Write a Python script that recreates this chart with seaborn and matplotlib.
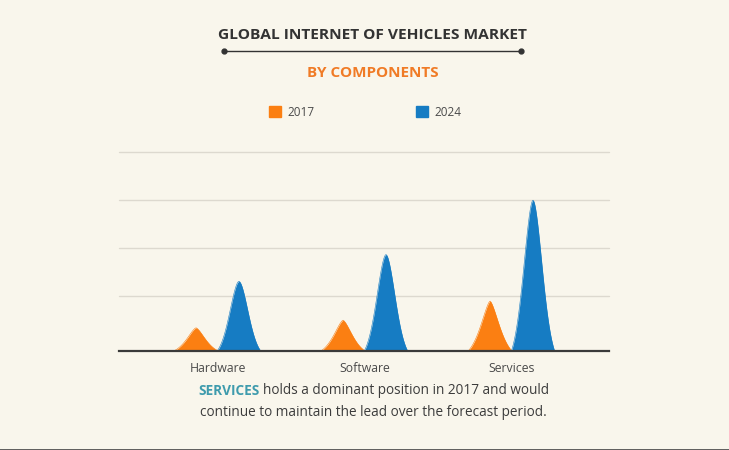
import matplotlib
matplotlib.use('Agg')
import matplotlib.pyplot as plt
from matplotlib.lines import Line2D
from matplotlib.patches import Patch
import numpy as np
import pandas as pd
import seaborn as sns

categories = ['Hardware', 'Software', 'Services']
years = ['2017', '2024']
values_2017 = [9.5, 12.7, 20.7]
values_2024 = [29, 40.2, 63]
grid_values = [23, 43, 63, 83]

ORANGE = '#FB7F12'
BLUE = '#167CC3'
BG = '#F9F6EC'
W, H = 729, 450


def peak_outline(center, value, offset, scale, power):
    # spike with a pointed top, value is the peak height
    half = 0.146
    t = np.linspace(-half, half, 81)
    edge = np.exp(-(half / scale) ** power)
    y = value * (np.exp(-(np.abs(t) / scale) ** power) - edge) / (1 - edge)
    return center + offset + t, y


def get_data():
    rows = []
    shapes = [(0.095, 1.5), (0.09, 1.8)]
    for i, cat in enumerate(categories):
        for year, vals, offset, shape in zip(years, [values_2017, values_2024], [-0.146, 0.146], shapes):
            x, y = peak_outline(i, vals[i], offset, shape[0], shape[1])
            rows.append(pd.DataFrame({'x': x, 'y': y, 'year': year, 'cat': cat}))
    return pd.concat(rows, ignore_index=True)


def main():
    sns.set_theme(style='white')
    plt.rcParams['font.family'] = ['Open Sans', 'DejaVu Sans']

    df = get_data()
    palette = {'2017': ORANGE, '2024': BLUE}

    fig = plt.figure(figsize=(W / 100, H / 100), dpi=100, facecolor=BG)
    ax = fig.add_axes([119 / W, 1 - 350.5 / H, 490 / W, 198.5 / H], facecolor=BG)

    sns.lineplot(data=df, x='x', y='y', hue='year', units='cat', estimator=None,
                 palette=palette, linewidth=0.4, legend=False, ax=ax, zorder=3)
    for (year, cat), part in df.groupby(['year', 'cat']):
        ax.fill_between(part['x'], 0, part['y'], color=palette[year], lw=0, zorder=3)

    ax.set_xlim(-0.67, 2.663)
    ax.set_ylim(0, 83.2)
    ax.set_xticks(range(len(categories)))
    ax.set_xticklabels(categories, fontsize=8.8, color='#4a4a4a')
    ax.set_yticks(grid_values)
    ax.set_yticklabels([])
    ax.set_xlabel('')
    ax.set_ylabel('')
    ax.tick_params(axis='both', length=0)
    ax.tick_params(axis='x', pad=8)
    ax.grid(axis='y', color='#DDD9CF', lw=1, clip_on=False)
    ax.grid(axis='x', visible=False)
    for side in ['top', 'left', 'right']:
        ax.spines[side].set_visible(False)
    ax.spines['bottom'].set_color('#3a3a3a')
    ax.spines['bottom'].set_linewidth(1.6)
    ax.spines['bottom'].set_zorder(4)

    handles = [Patch(color=ORANGE, label=years[0]), Patch(color=BLUE, label=years[1])]
    fig.legend(handles=handles, ncol=2, frameon=False, fontsize=8.5, labelcolor='#4a4a4a',
               handlelength=0.95, handleheight=0.95, handletextpad=0.6, columnspacing=8.6,
               loc='center', bbox_to_anchor=(365.5 / W, 1 - 112 / H))

    fig.text(372.5 / W, 1 - 35 / H, 'GLOBAL INTERNET OF VEHICLES MARKET', ha='center', va='center',
             fontsize=11.15, fontweight='bold', color='#333333')
    fig.add_artist(Line2D([224 / W, 521 / W], [1 - 51 / H, 1 - 51 / H], color='#333333', lw=1,
                          marker='o', markersize=3.5, markevery=[0, 1]))
    fig.text(372.5 / W, 1 - 73 / H, 'BY COMPONENTS', ha='center', va='center',
             fontsize=11, fontweight='bold', color='#F07B26')

    fig.text(198 / W, 1 - 391 / H, 'SERVICES', ha='left', va='center', fontsize=9.85,
             fontweight='bold', color='#3E9BAD')
    fig.text(263 / W, 1 - 391 / H, 'holds a dominant position in 2017 and would', ha='left', va='center',
             fontsize=9.8, color='#3c3c3c')
    fig.text(373 / W, 1 - 412 / H, 'continue to maintain the lead over the forecast period.', ha='center',
             va='center', fontsize=9.8, color='#3c3c3c')
    fig.add_artist(Line2D([0, 1], [0.5 / H, 0.5 / H], color='#444444', lw=1.2))

    fig.savefig('out.png', dpi=100, facecolor=BG)
    plt.close()


if __name__ == '__main__':
    main()
